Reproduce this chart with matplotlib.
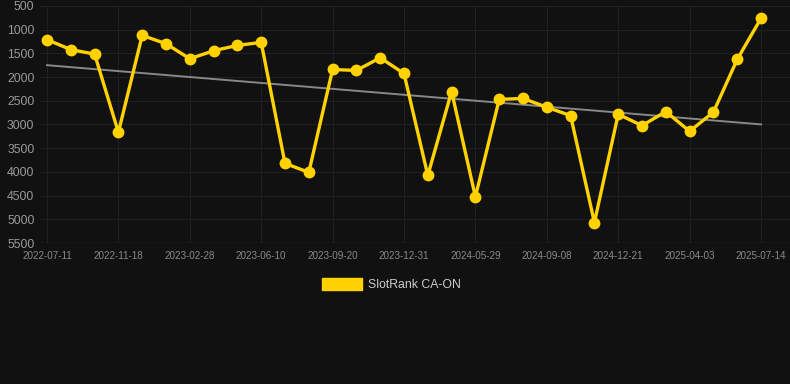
import numpy as np
import matplotlib.pyplot as plt
from matplotlib.patches import Rectangle

# rank per snapshot (lower = better, so the axis is inverted)
dates = ['2022-07-11', '', '', '2022-11-18', '', '', '2023-02-28', '', '',
         '2023-06-10', '', '', '2023-09-20', '', '', '2023-12-31', '', '',
         '2024-05-29', '', '', '2024-09-08', '', '', '2024-12-21', '', '',
         '2025-04-03', '', '', '2025-07-14']
ranks = [1210, 1420, 1515, 3165, 1120, 1296, 1613, 1444, 1331, 1268,
         3820, 4010, 1839, 1860, 1592, 1924, 4074, 2304, 4525, 2470,
         2450, 2636, 2812, 5068, 2784, 3023, 2727, 3143, 2741, 1627, 760]
yticks = [500, 1000, 1500, 2000, 2500, 3000, 3500, 4000, 4500, 5000, 5500]
series_name = 'SlotRank CA-ON'

BG = '#111111'
GOLD = '#ffd200'

plt.rcParams['font.family'] = ['Liberation Sans', 'DejaVu Sans']

fig = plt.figure(figsize=(7.9, 3.84), dpi=100, facecolor=BG)
ax = fig.add_axes([40 / 790, 1 - 243 / 384, 750 / 790, 237 / 384])
ax.set_facecolor(BG)

x = np.arange(len(ranks))
# linear trend
k, b = np.polyfit(x, ranks, 1)
ax.plot(x, k * x + b, color='#888888', lw=1.4, zorder=2)
ax.plot(x, ranks, color=GOLD, lw=2.4, marker='o', ms=7.5,
        markerfacecolor=GOLD, markeredgecolor=GOLD, zorder=3)

ax.set_ylim(5500, 500)
ax.set_yticks(yticks)
ax.set_xlim(-7 / 23.8, 30 + 29 / 23.8)
tick_pos = [i for i, d in enumerate(dates) if d]
ax.set_xticks(tick_pos)
ax.set_xticklabels([dates[i] for i in tick_pos])

ax.grid(True, color='#202020', lw=0.8)
ax.set_axisbelow(True)
for s in ax.spines.values():
    s.set_visible(False)
ax.axhline(5500, color='#2e2e2e', lw=1, zorder=1)
ax.tick_params(axis='y', length=0, pad=4, labelsize=8.8, labelcolor='#9a9a9a')
ax.tick_params(axis='x', length=0, pad=6, labelsize=7.1, labelcolor='#8a8a8a')

# legend below the chart
fig.patches.append(Rectangle((322 / 790, 1 - 290 / 384), 40 / 790, 12 / 384,
                             transform=fig.transFigure, facecolor=GOLD,
                             edgecolor=GOLD))
fig.text(368 / 790, 1 - 285 / 384, series_name, color='#cccccc',
         fontsize=8.8, va='center', ha='left')

fig.savefig('out.png', dpi=100, facecolor=BG)
